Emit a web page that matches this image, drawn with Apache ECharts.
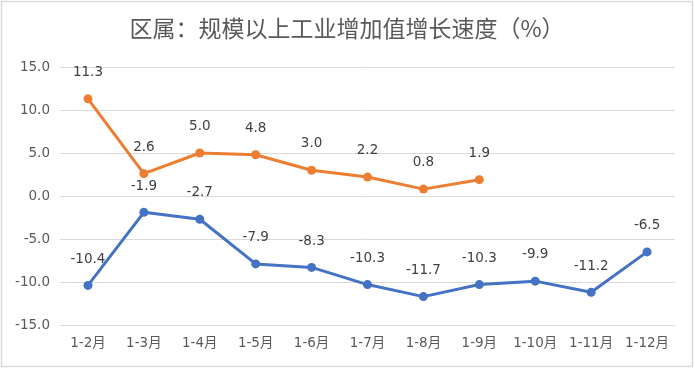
<!DOCTYPE html>
<html><head><meta charset="utf-8">
<script src="https://cdn.jsdelivr.net/npm/echarts@6/dist/echarts.min.js"></script>
<style>html,body{margin:0;padding:0;background:#fff}#c{width:694px;height:368px}</style>
</head><body><div id="c"></div>
<script>
const categories = ['1-2月','1-3月','1-4月','1-5月','1-6月','1-7月','1-8月','1-9月','1-10月','1-11月','1-12月'];
const orangeValues = [11.3, 2.6, 5.0, 4.8, 3.0, 2.2, 0.8, 1.9];
const blueValues = [-10.4, -1.9, -2.7, -7.9, -8.3, -10.3, -11.7, -10.3, -9.9, -11.2, -6.5];
const titleText = '区属：规模以上工业增加值增长速度（%）';

const font = '"DejaVu Sans","Noto Sans CJK SC",sans-serif';
const cjk = '"Noto Sans CJK SC","Noto Sans",sans-serif';
const chart = echarts.init(document.getElementById('c'));
const lbl = {show:true, position:'top', distance:15, color:'#404040', fontSize:13.5, fontFamily:font, formatter:p=>p.value.toFixed(1)};
chart.setOption({
  animation:false,
  title:{text:titleText, left:'center', top:12, textStyle:{fontSize:23, fontWeight:'normal', color:'#595959', fontFamily:cjk}},
  graphic:[{type:'rect', shape:{x:1.5,y:1.5,width:691,height:365}, style:{fill:'none', stroke:'#d9d9d9', lineWidth:1.5}, silent:true}],
  grid:{left:60, right:19, top:67, bottom:43},
  xAxis:{type:'category', data:categories, boundaryGap:true,
    axisLine:{show:false}, axisTick:{show:false},
    axisLabel:{interval:0, hideOverlap:false, color:'#595959', fontSize:13.5, fontFamily:font, margin:12}},
  yAxis:{type:'value', min:-15, max:15, interval:5,
    axisLine:{show:false}, axisTick:{show:false},
    axisLabel:{color:'#595959', fontSize:13.5, fontFamily:font, margin:10, formatter:v=>v.toFixed(1)},
    splitLine:{lineStyle:{color:'#d9d9d9', width:1}}},
  series:[
    {type:'line', data:orangeValues, symbol:'circle', symbolSize:9, color:'#ED7D31',
     lineStyle:{width:3, color:'#ED7D31'}, itemStyle:{color:'#ED7D31'}, label:lbl},
    {type:'line', data:blueValues, symbol:'circle', symbolSize:9, color:'#4472C4',
     lineStyle:{width:3, color:'#4472C4'}, itemStyle:{color:'#4472C4'}, label:lbl}
  ]
});
</script></body></html>
